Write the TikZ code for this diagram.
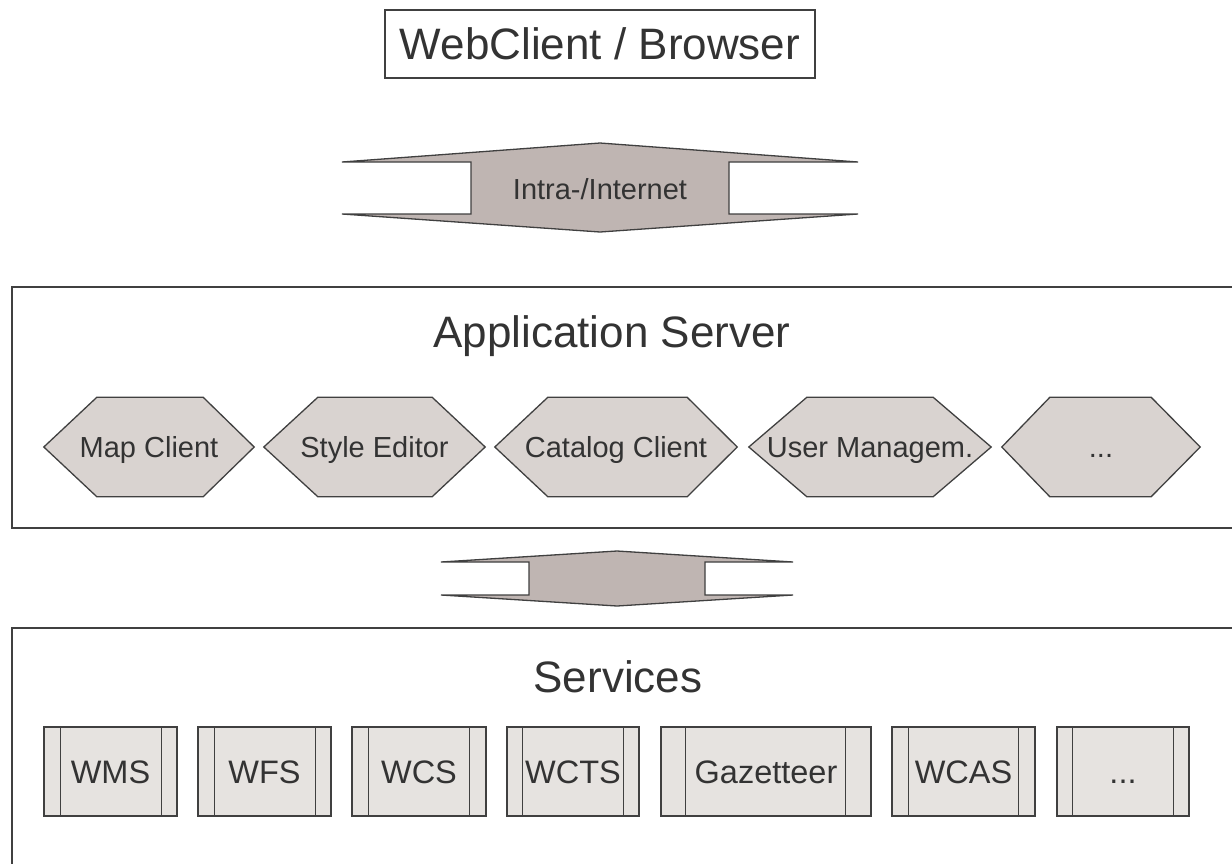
\documentclass[tikz,border=0pt]{standalone}
\usepackage{fontspec}
\setmainfont{Liberation Sans}
\usetikzlibrary{calc}

\definecolor{linec}{HTML}{404040}
\definecolor{textc}{HTML}{333333}
\definecolor{hexfill}{HTML}{D9D3D0}
\definecolor{arrowfill}{HTML}{BFB5B2}
\definecolor{svcfill}{HTML}{E6E3E0}

% three plain full stops (kept as a macro so \foreach does not read them as a range)
\newcommand{\moredots}{...}

\tikzset{
  outline/.style={draw=linec, line width=1.3pt, line join=miter},
  bigtext/.style={font=\fontsize{44}{50}\selectfont, text=textc, text height=31.5pt, text depth=0pt, inner sep=0pt},
  hexlabel/.style={font=\fontsize{29}{34}\selectfont, text=textc, text height=20.8pt, text depth=0pt, inner sep=0pt},
  svcbox/.style={outline, fill=svcfill, font=\fontsize{32.5}{38}\selectfont, text=textc,
    text height=23.3pt, text depth=0pt, inner sep=0pt, minimum height=89pt},
}

\begin{document}
\begin{tikzpicture}[x=1pt, y=-1pt]
\useasboundingbox (0,0) rectangle (1232,863);

% client on top
\node[bigtext, outline, minimum width=430pt, minimum height=68pt] (client) at (600,44) {WebClient / Browser};

% network double arrow
\draw[outline, fill=arrowfill] (342,162) -- (600,143) -- (858,162) -- (729,162) -- (729,214)
  -- (858,214) -- (600,232) -- (342,214) -- (471,214) -- (471,162) -- cycle;
\node[hexlabel] (net) at (600,189) {Intra-/Internet};

% application server frame
\draw[outline] (1233,287) -- (12,287) -- (12,528) -- (1233,528);
\node[bigtext] (apptitle) at (612,331.5) {Application Server};

% application modules
\foreach \n/\l/\r/\a/\b/\t in {map/44/254/53/51/Map Client,
    style/264/485/54/53/Style Editor,
    cat/495/737/53/50/Catalog Client,
    user/749/991/58/58/User Managem.,
    more/1002/1200/48/49/\moredots}{
  \pgfmathsetmacro{\w}{\r-\l}
  \pgfmathsetmacro{\c}{(\l+\r)/2}
  \node[hexlabel, minimum width=\w pt, minimum height=99pt] (\n) at (\c,447) {};
  \draw[outline, fill=hexfill] (\n.west) -- ($(\n.north west)+(\a,0)$) -- ($(\n.north east)+(-\b,0)$)
    -- (\n.east) -- ($(\n.south east)+(-\b,0)$) -- ($(\n.south west)+(\a,0)$) -- cycle;
  \node[hexlabel] at (\n.center) {\t};
}

% link between application server and services
\draw[outline, fill=arrowfill] (441,562) -- (617,551) -- (793,562) -- (705,562) -- (705,595)
  -- (793,595) -- (617,606) -- (441,595) -- (529,595) -- (529,562) -- cycle;

% services frame
\draw[outline] (1233,628) -- (12,628) -- (12,864);
\node[bigtext] (svctitle) at (618,676.5) {Services};

% service boxes
\foreach \n/\l/\r/\a/\b/\t in {wms/44/177/17/16/WMS,
    wfs/198/331/17/16/WFS,
    wcs/352/486/17/17/WCS,
    wcts/507/639/16/16/WCTS,
    gaz/661/871/25/26/Gazetteer,
    wcas/892/1035/17/17/WCAS,
    svcmore/1057/1189/16/16/\moredots}{
  \pgfmathsetmacro{\w}{\r-\l}
  \pgfmathsetmacro{\c}{(\l+\r)/2}
  \node[svcbox, minimum width=\w pt] (\n) at (\c,771.5) {\t};
  \draw[outline] ($(\n.north west)+(\a,0)$) -- ($(\n.south west)+(\a,0)$);
  \draw[outline] ($(\n.north east)+(-\b,0)$) -- ($(\n.south east)+(-\b,0)$);
}
\end{tikzpicture}
\end{document}
